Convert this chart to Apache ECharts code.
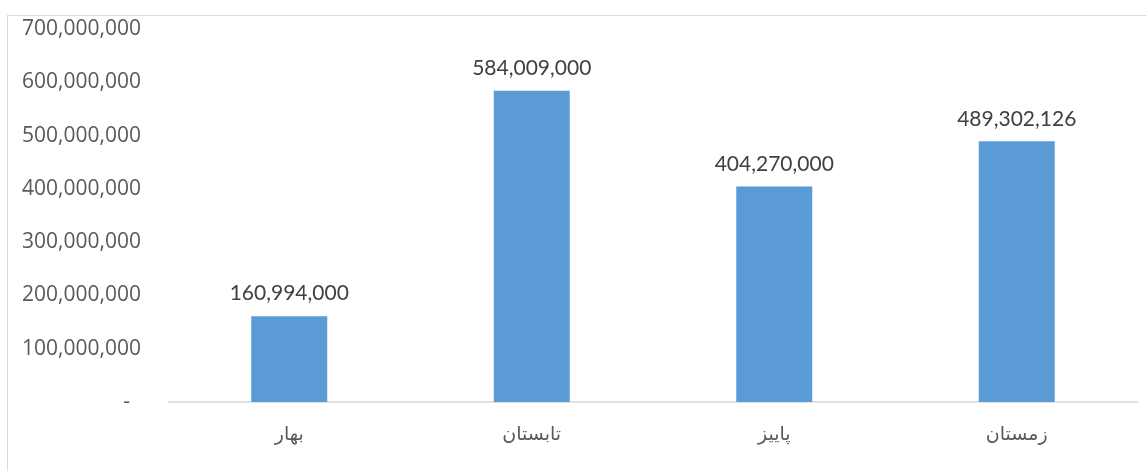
<!DOCTYPE html>
<html>
<head>
<meta charset="utf-8">
<script src="https://cdn.jsdelivr.net/npm/echarts@6/dist/echarts.min.js"></script>
<style>
html,body{margin:0;padding:0;background:#fff;}
#frame{position:absolute;left:7px;top:15px;width:1200px;height:520px;border:1px solid #d9d9d9;box-sizing:border-box;}
#chart{position:absolute;left:0;top:0;width:1146px;height:471px;}
</style>
</head>
<body>
<div id="frame"></div>
<div id="chart"></div>
<script>
const categories = ['بهار', 'تابستان', 'پاییز', 'زمستان'];
const values = [160994000, 584009000, 404270000, 489302126];
const yTicks = [0, 100000000, 200000000, 300000000, 400000000, 500000000, 600000000, 700000000];

function fmt(v) {
  return String(v).replace(/\B(?=(\d{3})+(?!\d))/g, ',');
}

const chart = echarts.init(document.getElementById('chart'), null, {renderer: 'canvas'});
chart.setOption({
  animation: false,
  backgroundColor: 'transparent',
  grid: {left: 168, right: 8, top: 29, bottom: 69, containLabel: false},
  xAxis: {
    type: 'category',
    data: categories,
    axisTick: {show: false},
    axisLine: {lineStyle: {color: '#d9d9d9', width: 1.5}},
    axisLabel: {color: '#595959', fontSize: 19, fontFamily: 'DejaVu Sans', margin: 24}
  },
  yAxis: {
    type: 'value',
    min: yTicks[0],
    max: yTicks[yTicks.length - 1],
    interval: yTicks[1] - yTicks[0],
    splitLine: {show: false},
    axisLine: {show: false},
    axisTick: {show: false},
    axisLabel: {
      color: '#595959', fontSize: 21, fontFamily: 'Open Sans', margin: 27,
      formatter: function (v) { return v === 0 ? '{d|-}' : fmt(v); },
      rich: {d: {color: '#595959', fontSize: 21, fontFamily: 'Open Sans', padding: [0, 11, 0, 0]}}
    }
  },
  series: [{
    type: 'bar',
    data: values,
    barWidth: 76,
    itemStyle: {color: '#5b9bd5'},
    label: {
      show: true, position: 'top', distance: 12,
      color: '#404040', fontSize: 21, fontFamily: 'Lato',
      formatter: function (p) { return fmt(p.value); }
    }
  }]
});
</script>
</body>
</html>
